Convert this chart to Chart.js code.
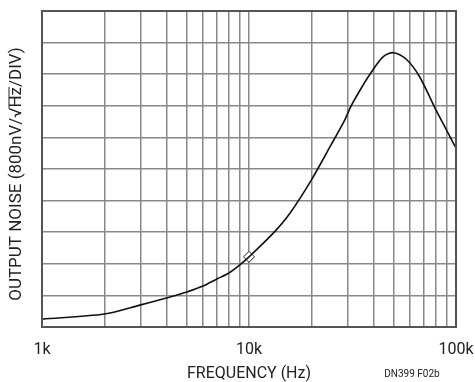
<!DOCTYPE html>
<html>
<head>
<meta charset="utf-8">
<script src="https://cdn.jsdelivr.net/npm/chart.js@4/dist/chart.umd.min.js"></script>
<style>
  html, body { margin: 0; padding: 0; background: #fff; }
  #wrap { width: 475px; height: 382px; position: relative; }
</style>
</head>
<body>
<div id="wrap"><canvas id="noise"></canvas></div>
<script>
// Frequency (Hz) and output noise in divisions (800nV/rtHz per div)
const freqs = [1000, 2000, 3000, 4000, 5000, 6000, 7000, 8000, 9000, 10000,
  13100, 15800, 20000, 24600, 29000, 31100, 35000, 38400, 44400, 50000,
  58000, 66700, 80000, 90000, 100000];
const noise = [0.25, 0.41, 0.70, 0.92, 1.11, 1.30, 1.52, 1.71, 1.96, 2.22,
  2.97, 3.61, 4.65, 5.70, 6.55, 6.99, 7.58, 8.00, 8.55, 8.68,
  8.45, 7.92, 6.87, 6.23, 5.66];
// Marked point
const markerFreq = [10000];
const markerNoise = [2.22];
const tickLabels = { 1000: '1k', 10000: '10k', 100000: '100k' };

const FONT = "'Roboto', sans-serif";

// grid positions for the log axis: 1k..9k, 10k..90k, 100k
const gridFreqs = [];
for (let d = 1000; d <= 10000; d *= 10) {
  for (let m = 1; m <= 9; m++) gridFreqs.push(m * d);
}
gridFreqs.push(100000);

// frame, y-axis title (overline over "Hz") and figure tag
const extras = {
  id: 'extras',
  afterDatasetsDraw(chart) {
    const { ctx, chartArea: a } = chart;
    ctx.save();
    ctx.strokeStyle = '#555';
    ctx.lineWidth = 2;
    ctx.strokeRect(a.left, a.top, a.right - a.left, a.bottom - a.top);
    ctx.restore();
  },
  afterDraw(chart) {
    const { ctx } = chart;
    const pre = 'OUTPUT NOISE (800nV/√';
    const hz = 'Hz';
    const post = '/DIV)';
    ctx.save();
    ctx.font = '17px ' + FONT;
    const full = ctx.measureText(pre + hz + post).width;
    const wPre = ctx.measureText(pre).width;
    const wHz = ctx.measureText(hz).width;
    ctx.translate(17, 174);
    ctx.rotate(-Math.PI / 2);
    ctx.fillStyle = '#222';
    ctx.textBaseline = 'middle';
    ctx.textAlign = 'left';
    const x0 = -full / 2;
    ctx.fillText(pre + hz + post, x0, 0);
    ctx.strokeStyle = '#222';
    ctx.lineWidth = 1;
    ctx.beginPath();
    ctx.moveTo(x0 + wPre - 1, -8);
    ctx.lineTo(x0 + wPre + wHz, -8);
    ctx.stroke();
    ctx.restore();

    ctx.save();
    ctx.font = '10px ' + FONT;
    ctx.fillStyle = '#222';
    ctx.textAlign = 'center';
    ctx.textBaseline = 'middle';
    ctx.fillText('DN399 F02b', 412, 374);
    ctx.restore();
  }
};

new Chart(document.getElementById('noise'), {
  type: 'line',
  data: {
    datasets: [
      {
        data: freqs.map((f, i) => ({ x: f, y: noise[i] })),
        borderColor: '#111',
        borderWidth: 1.6,
        pointRadius: 0,
        tension: 0.3,
        fill: false
      },
      {
        data: markerFreq.map((f, i) => ({ x: f, y: markerNoise[i] })),
        showLine: false,
        pointStyle: 'rectRot',
        pointRadius: 5.5,
        pointBackgroundColor: '#fff',
        pointBorderColor: '#222',
        pointBorderWidth: 1
      }
    ]
  },
  options: {
    responsive: true,
    maintainAspectRatio: false,
    animation: false,
    layout: { padding: { left: 42, right: 19, top: 11, bottom: 0 } },
    plugins: { legend: { display: false }, tooltip: { enabled: false } },
    scales: {
      x: {
        type: 'logarithmic',
        min: 1000,
        max: 100000,
        afterBuildTicks: (scale) => {
          scale.ticks = gridFreqs.map(v => ({ value: v }));
        },
        ticks: {
          autoSkip: false,
          maxRotation: 0,
          padding: 0,
          color: '#222',
          font: { family: FONT, size: 16, lineHeight: 1 },
          callback: (v) => tickLabels[v] || ''
        },
        grid: {
          color: '#888',
          lineWidth: 1.5,
          drawTicks: true,
          tickLength: 15,
          tickColor: 'rgba(0,0,0,0)'
        },
        border: { color: '#555', width: 2 },
        title: {
          display: true,
          text: 'FREQUENCY (Hz)',
          color: '#222',
          font: { family: FONT, size: 16, lineHeight: 1 },
          padding: { top: 8, bottom: 0 }
        }
      },
      y: {
        type: 'linear',
        min: 0,
        max: 10,
        ticks: { display: false, stepSize: 1 },
        grid: { color: '#888', lineWidth: 1.5, drawTicks: false },
        border: { color: '#555', width: 2 }
      }
    }
  },
  plugins: [extras]
});
</script>
</body>
</html>
